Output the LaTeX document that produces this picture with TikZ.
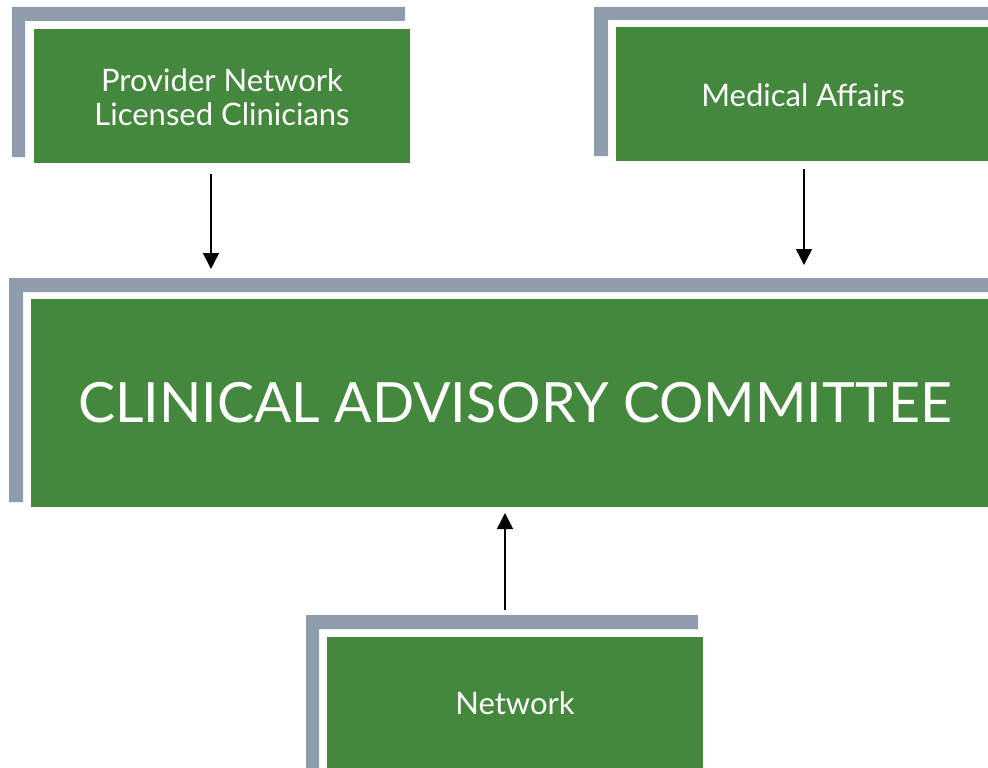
\documentclass[tikz,border=0pt]{standalone}
\usepackage{fontspec}
\setmainfont{Lato}
\usetikzlibrary{arrows.meta}
\definecolor{boxgreen}{RGB}{68,136,62}
\definecolor{bargray}{RGB}{143,156,174}
\tikzset{
  greenbox/.style={fill=boxgreen, draw=none, inner sep=0pt, anchor=north west, text=white, align=center},
  bar/.style={fill=bargray, draw=none},
  smalltext/.style={font=\fontsize{31}{34}\selectfont, text=white, align=center},
  bigtext/.style={font=\fontsize{55.5}{66}\selectfont, text=white},
  conn/.style={line width=1.5pt, -{Triangle[length=16pt, width=16pt]}}
}
\begin{document}
\begin{tikzpicture}[x=1pt, y=-1pt]
\useasboundingbox (0,0) rectangle (988,768);
% gray brackets
\fill[bar] (12,7) -- (405,7) -- (405,21) -- (25,21) -- (25,157) -- (12,157) -- cycle;
\fill[bar] (594,7) -- (988,7) -- (988,20) -- (608,20) -- (608,156) -- (594,156) -- cycle;
\fill[bar] (9,278) -- (988,278) -- (988,292) -- (23,292) -- (23,502) -- (9,502) -- cycle;
\fill[bar] (306,615) -- (698,615) -- (698,629) -- (319,629) -- (319,768) -- (306,768) -- cycle;
% green boxes
\node[greenbox, minimum width=376pt, minimum height=134pt] (prov) at (34,29) {};
\node[smalltext] (provt) at (222,97) {Provider Network\\Licensed Clinicians};
\node[greenbox, minimum width=372pt, minimum height=134pt] (med) at (616,27) {};
\node[smalltext] (medt) at (803,95) {Medical Affairs};
\node[greenbox, minimum width=957pt, minimum height=208pt] (cac) at (31,299) {};
\node[bigtext] (cact) at (515,403) {CLINICAL ADVISORY COMMITTEE};
\node[greenbox, minimum width=376pt, minimum height=131pt] (net) at (327,637) {};
\node[smalltext] (nett) at (515,703) {Network};
% arrows
\coordinate (a1s) at (211,174); \coordinate (a1e) at (211,269);
\coordinate (a2s) at (804,169); \coordinate (a2e) at (804,265);
\coordinate (a3s) at (505,610); \coordinate (a3e) at (505,513);
\draw[conn] (a1s) -- (a1e);
\draw[conn] (a2s) -- (a2e);
\draw[conn] (a3s) -- (a3e);
\end{tikzpicture}
\end{document}
